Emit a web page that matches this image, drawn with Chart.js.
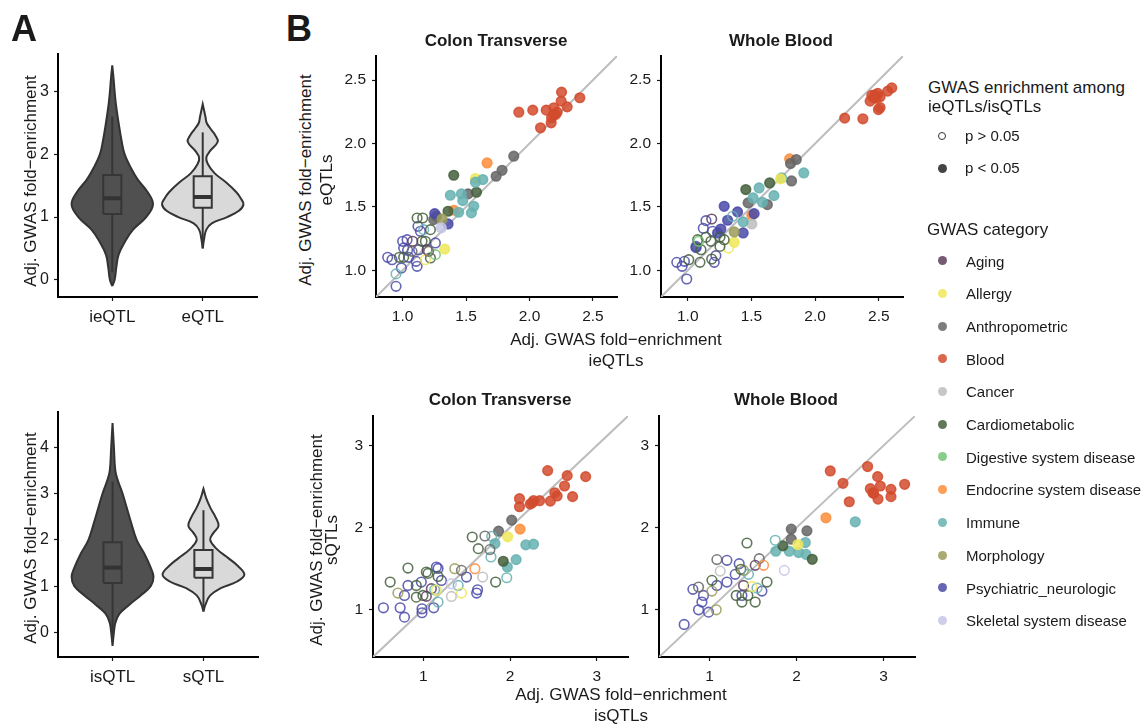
<!DOCTYPE html>
<html><head><meta charset="utf-8">
<script src="https://cdn.jsdelivr.net/npm/chart.js@4.4.1/dist/chart.umd.min.js"></script>
<style>
html,body{margin:0;padding:0;background:#fff}
body{width:1145px;height:725px;overflow:hidden;position:relative;font-family:"Liberation Sans",Arial,Helvetica,sans-serif;color:#1a1a1a}
canvas{position:absolute}
.t{position:absolute;white-space:nowrap;line-height:1}
.dot{position:absolute;border-radius:50%;box-sizing:border-box}
</style></head><body>
<script>
// ---------------- DATA ----------------
const categories = ['Aging','Allergy','Anthropometric','Blood','Cancer','Cardiometabolic','Digestive system disease','Endocrine system disease','Immune','Morphology','Psychiatric_neurologic','Skeletal system disease'];
const categoryCodes = ['Ag','Al','An','Bl','Ca','Cm','Di','En','Im','Mo','Ps','Sk'];
const categoryColors = ['#5e3c5c','#efe85a','#666666','#d24b2e','#bdbdbd','#44603c','#74c476','#fd8d3c','#67b2b2','#9b9b5a','#4a4aa8','#c6c6e6'];
const pLabels = ['p > 0.05','p < 0.05'];
const tissues = ['Colon Transverse','Whole Blood'];

// violin groups (panel A)
const violinTopGroups = ['ieQTL','eQTL'];
const violinBottomGroups = ['isQTL','sQTL'];
const ieqtlY = [-0.1,0.0,0.2,0.4,0.6,0.8,1.0,1.2,1.4,1.6,1.8,2.0,2.2,2.5,2.8,3.0,3.2,3.42];
const ieqtlW = [0,0.026,0.045,0.07,0.137,0.23,0.375,0.45,0.39,0.28,0.2,0.137,0.105,0.07,0.04,0.026,0.015,0];
const eqtlY = [0.5,0.65,0.8,0.9,1.0,1.1,1.2,1.3,1.4,1.55,1.7,1.85,1.95,2.05,2.2,2.3,2.4,2.5,2.6,2.8];
const eqtlW = [0,0.015,0.04,0.1,0.27,0.4,0.45,0.42,0.37,0.26,0.13,0.055,0.04,0.08,0.166,0.14,0.09,0.044,0.03,0];
const isqtlY = [-0.29,0.0,0.2,0.4,0.6,0.8,1.0,1.2,1.4,1.7,2.0,2.4,2.7,3.0,3.3,3.5,4.0,4.52];
const isqtlW = [0,0.015,0.03,0.075,0.185,0.31,0.42,0.45,0.42,0.35,0.265,0.2,0.155,0.11,0.055,0.03,0.015,0];
const sqtlY = [0.45,0.6,0.8,0.95,1.1,1.25,1.45,1.6,1.8,2.0,2.15,2.3,2.5,2.7,2.9,3.1];
const sqtlW = [0,0.022,0.074,0.185,0.37,0.45,0.37,0.277,0.148,0.074,0.11,0.166,0.13,0.074,0.03,0];
// box stats: [lower whisker, q1, median, q3, upper whisker]
const ieqtlBox = [0.12,1.05,1.3,1.67,2.6];
const eqtlBox = [0.5,1.15,1.32,1.65,2.35];
const isqtlBox = [-0.2,1.07,1.4,1.95,3.26];
const sqtlBox = [0.48,1.18,1.37,1.78,2.64];
const violinTopTicks = [0,1,2,3];
const violinBottomTicks = [0,1,2,3,4];

// scatter panels (panel B): [ieQTL/isQTL enrichment, eQTL/sQTL enrichment, category, significant]
const colonEqtl = [
 [1.916,2.247,'Bl',1],[2.026,2.263,'Bl',1],[2.087,2.124,'Bl',1],[2.132,2.263,'Bl',1],[2.171,2.163,'Bl',1],[2.192,2.282,'Bl',1],[2.205,2.229,'Bl',1],[2.218,2.247,'Bl',1],[2.25,2.334,'Bl',1],[2.253,2.405,'Bl',1],[2.297,2.289,'Bl',1],[2.397,2.361,'Bl',1],[2.174,2.203,'Bl',1],[2.19,2.23,'Bl',1],
 [1.666,1.847,'En',1],[1.403,1.474,'En',1],
 [1.876,1.9,'An',1],[1.784,1.789,'An',1],[1.737,1.742,'An',1],[1.516,1.603,'An',1],[1.245,1.4,'An',1],[1.266,1.426,'An',1],
 [1.403,1.75,'Cm',1],[1.582,1.616,'Cm',1],[1.358,1.466,'Cm',1],
 [1.574,1.724,'Al',1],[1.332,1.168,'Al',1],
 [1.574,1.695,'Im',1],[1.632,1.716,'Im',1],[1.376,1.592,'Im',1],[1.463,1.603,'Im',1],[1.474,1.55,'Im',1],[1.561,1.505,'Im',1],[1.542,1.453,'Im',1],[1.442,1.458,'Im',1],
 [1.253,1.447,'Ps',1],[1.358,1.366,'Ps',1],[1.311,1.405,'Mo',1],[1.305,1.335,'Sk',1],
 [0.882,1.103,'Ps',0],[0.916,1.084,'Ps',0],[0.948,0.874,'Ps',0],[0.99,1.019,'Ps',0],[1.0,1.229,'Ps',0],[1.035,1.242,'Ps',0],[1.008,1.177,'Ps',0],[1.039,1.158,'Ps',0],[1.047,1.103,'Ps',0],[1.114,1.032,'Ps',0],[1.106,1.071,'Ps',0],[1.126,1.163,'Ps',0],[1.121,1.347,'Ps',0],[1.258,1.216,'Ps',0],[1.14,1.308,'Ps',0],
 [0.948,0.972,'Im',0],[1.166,1.321,'Im',0],
 [0.974,1.103,'Cm',0],[1.008,1.103,'Cm',0],[1.114,1.413,'Cm',0],[1.158,1.413,'Cm',0],[1.153,1.229,'Cm',0],[1.179,1.229,'Cm',0],[1.219,1.321,'Cm',0],[1.219,1.098,'Cm',0],
 [1.079,1.229,'Ag',0],[1.193,1.163,'Ag',0],[1.179,1.084,'Al',0],[1.258,1.124,'Di',0],[1.074,1.15,'An',0],[1.205,1.15,'An',0]
];
const bloodEqtl = [
 [2.232,2.2,'Bl',1],[2.375,2.195,'Bl',1],[2.445,2.379,'Bl',1],[2.471,2.384,'Bl',1],[2.492,2.395,'Bl',1],[2.51,2.368,'Bl',1],[2.432,2.334,'Bl',1],[2.497,2.268,'Bl',1],[2.51,2.284,'Bl',1],[2.57,2.413,'Bl',1],[2.602,2.439,'Bl',1],[2.479,2.358,'Bl',1],[2.46,2.36,'Bl',1],
 [1.8,1.879,'En',1],[1.503,1.434,'En',1],
 [1.807,1.842,'An',1],[1.852,1.874,'An',1],[1.815,1.705,'An',1],[1.625,1.518,'An',1],[1.474,1.532,'An',1],[1.503,1.366,'Ca',1],
 [1.456,1.637,'Cm',1],[1.643,1.689,'Cm',1],
 [1.56,1.65,'Im',1],[1.737,1.729,'Im',1],[1.911,1.768,'Im',1],[1.677,1.589,'Im',1],[1.586,1.537,'Im',1],[1.513,1.571,'Im',1],[1.435,1.382,'Im',1],
 [1.729,1.721,'Al',1],[1.365,1.221,'Al',1],
 [1.286,1.505,'Ps',1],[1.391,1.461,'Ps',1],[1.313,1.395,'Ps',1],[1.521,1.447,'Ps',1],[1.435,1.295,'Ps',1],[1.26,1.326,'Ps',1],[1.234,1.295,'Ps',1],[1.065,1.179,'Ps',1],
 [1.365,1.303,'Mo',1],
 [0.914,1.063,'Ps',0],[0.956,1.032,'Ps',0],[0.992,0.932,'Ps',0],[0.974,1.071,'Ps',0],[1.065,1.189,'Ps',0],[1.122,1.332,'Ps',0],[1.143,1.392,'Ps',0],[1.195,1.308,'Ps',0],[1.221,1.116,'Ps',0],[1.208,1.063,'Ps',0],
 [1.32,1.176,'Al',0],[1.352,1.426,'Im',0],[1.188,1.405,'Ag',0],
 [1.008,1.084,'Cm',0],[1.096,1.063,'Cm',0],[1.078,1.242,'Cm',0],[1.143,1.261,'Cm',0],[1.182,1.229,'Cm',0],[1.253,1.189,'Cm',0],[1.286,1.242,'Cm',0],[1.188,1.089,'Cm',0],[1.253,1.263,'Cm',0],[1.104,1.163,'Cm',0],
 [1.086,1.229,'Di',0]
];
const colonSqtl = [
 [2.434,2.694,'Bl',1],[2.659,2.633,'Bl',1],[2.872,2.62,'Bl',1],[2.628,2.506,'Bl',1],[2.516,2.424,'Bl',1],[2.109,2.351,'Bl',1],[2.109,2.253,'Bl',1],[2.256,2.302,'Bl',1],[2.341,2.327,'Bl',1],[2.465,2.322,'Bl',1],[2.543,2.384,'Bl',1],[2.721,2.376,'Bl',1],[2.271,2.327,'Bl',1],[2.233,2.286,'Bl',1],
 [2.019,2.09,'An',1],[1.868,1.955,'An',1],[2.116,1.98,'En',1],[1.973,1.886,'Al',1],
 [1.826,1.804,'Im',1],[2.182,1.788,'Im',1],[2.271,1.796,'Im',1],[1.969,1.518,'Im',1],[2.07,1.608,'Im',1],[1.922,1.588,'Cm',1],
 [0.54,1.02,'Ps',0],[0.733,1.02,'Ps',0],[0.783,0.906,'Ps',0],[0.783,1.171,'Ps',0],[0.823,1.293,'Ps',0],[0.977,1.334,'Ps',0],[0.985,1.008,'Ps',0],[0.985,0.96,'Ps',0],[1.151,1.517,'Ps',0],[1.17,1.5,'Ps',0],[1.209,1.354,'Ps',0],[1.12,1.02,'Ps',0],[1.498,1.395,'Ps',0],[1.626,1.24,'Ps',0],[1.615,1.2,'Ps',0],
 [0.618,1.334,'Cm',0],[0.823,1.505,'Cm',0],[0.919,1.293,'Cm',0],[0.919,1.15,'Cm',0],[1.035,1.456,'Cm',0],[1.054,1.44,'Cm',0],[1.17,1.403,'Cm',0],[0.996,1.171,'Cm',0],[1.564,1.884,'Cm',0],[1.634,1.742,'Cm',0],[1.834,1.334,'Cm',0],
 [0.707,1.2,'Mo',0],[1.363,1.497,'Mo',0],[1.035,1.16,'Ag',0],[1.093,1.253,'Ag',0],
 [1.131,1.24,'Im',0],[1.17,1.09,'Im',0],[1.402,1.293,'Im',0],[1.788,1.892,'Im',0],[1.78,1.64,'Im',0],[1.962,1.387,'Im',0],
 [1.151,1.236,'Al',0],[1.44,1.2,'Al',0],[1.324,1.159,'Ca',0],[1.684,1.395,'Ca',0],[1.324,1.314,'Sk',0],
 [1.44,1.477,'An',0],[1.71,1.896,'An',0],[1.768,1.73,'An',0],[1.595,1.497,'En',0]
];
const bloodSqtl = [
 [2.387,2.69,'Bl',1],[2.816,2.743,'Bl',1],[2.533,2.539,'Bl',1],[2.605,2.314,'Bl',1],[2.931,2.62,'Bl',1],[2.962,2.506,'Bl',1],[2.847,2.473,'Bl',1],[2.885,2.416,'Bl',1],[3.084,2.465,'Bl',1],[3.084,2.376,'Bl',1],[3.241,2.527,'Bl',1],[2.935,2.347,'Bl',1],[2.877,2.424,'Bl',1],
 [2.337,2.118,'En',1],
 [2.674,2.069,'Im',1],[2.1,1.816,'Im',1],[1.762,1.71,'Im',1],[1.916,1.71,'Im',1],[2.023,1.694,'Im',1],[2.107,1.673,'Im',1],
 [1.939,1.98,'An',1],[2.119,1.959,'An',1],[1.939,1.857,'An',1],[1.843,1.776,'Cm',1],[2.18,1.612,'Cm',1],[2.015,1.792,'Al',1],
 [0.709,0.817,'Ps',0],[0.874,0.996,'Ps',0],[0.989,0.967,'Ps',0],[0.913,1.09,'Ps',0],[0.931,1.171,'Ps',0],[0.809,1.245,'Ps',0],[1.085,1.293,'Ps',0],[1.2,1.599,'Ps',0],[1.2,1.334,'Ps',0],[1.295,1.428,'Ps',0],[1.341,1.558,'Ps',0],[1.372,1.171,'Ps',0],[1.602,1.224,'Ps',0],
 [1.077,0.996,'Mo',0],[1.028,1.224,'Mo',0],[1.391,1.477,'Mo',0],
 [0.874,1.273,'An',0],[1.085,1.608,'An',0],[1.571,1.62,'An',0],
 [1.028,1.355,'Cm',0],[1.307,1.171,'Cm',0],[1.372,1.09,'Cm',0],[1.441,1.171,'Cm',0],[1.525,1.09,'Cm',0],[1.43,1.811,'Cm',0],[1.66,1.334,'Cm',0],[1.36,1.49,'Cm',0],
 [1.123,1.468,'Ca',0],[1.391,1.293,'Ag',0],[1.525,1.538,'Ag',0],
 [1.448,1.428,'Im',0],[1.545,1.261,'Im',0],[1.755,1.844,'Im',0],
 [1.487,1.281,'Al',0],[1.621,1.538,'En',0],[1.859,1.477,'Sk',0]
];
const eqtlRange = [0.79, 2.69];
const sqtlRange = [0.42, 3.36];
const eqtlTicks = [1.0,1.5,2.0,2.5];
const sqtlTicks = [1,2,3];

// ---------------- RENDERING ----------------
const FONT = '"Liberation Sans", Arial, Helvetica, sans-serif';
Chart.defaults.font.family = FONT;
Chart.defaults.color = '#1a1a1a';
Chart.defaults.animation = false;

const PAD_T = 20, PAD_R = 20, AXIS_W = 50, AXIS_H = 40;

function rgba(hex, a) {
  const n = parseInt(hex.slice(1), 16);
  return `rgba(${(n>>16)&255},${(n>>8)&255},${n&255},${a})`;
}
function catColor(code) { return categoryColors[categoryCodes.indexOf(code)]; }

function makeCanvas(area) {
  const c = document.createElement('canvas');
  const w = area.r - area.l + AXIS_W + PAD_R, h = area.b - area.t + PAD_T + AXIS_H;
  c.width = w; c.height = h;
  c.style.width = w + 'px'; c.style.height = h + 'px';
  c.style.left = (area.l - AXIS_W) + 'px'; c.style.top = (area.t - PAD_T) + 'px';
  document.body.appendChild(c);
  return c;
}

function axis(min, max, ticks, fmt, size, isX, pad) {
  return {
    type: 'linear', min, max,
    afterBuildTicks: s => { s.ticks = ticks.map(v => ({ value: v })); },
    afterFit: s => { if (isX) s.height = AXIS_H; else s.width = AXIS_W; },
    ticks: { callback: fmt, font: { size }, color: '#1a1a1a', padding: pad, autoSkip: false, maxRotation: 0, minRotation: 0 },
    grid: { display: true, drawOnChartArea: false, drawTicks: true, tickLength: 4, tickWidth: 1.2, tickColor: '#1a1a1a' },
    border: { display: true, color: '#000', width: 2 }
  };
}

function baseOptions(scales) {
  return {
    responsive: false, devicePixelRatio: 1, animation: false,
    layout: { padding: { top: PAD_T, right: PAD_R, left: 0, bottom: 0 } },
    plugins: { legend: { display: false }, tooltip: { enabled: false }, title: { display: false } },
    scales
  };
}

function violinSets(pos, ys, ws, box, fill) {
  const poly = ys.map((y, i) => ({ x: pos + ws[i], y })).concat(ys.map((y, i) => ({ x: pos - ws[i], y })).reverse());
  const bw = 0.1;
  const [lo, q1, med, q3, hi] = box;
  const rect = [{x:pos-bw,y:q1},{x:pos+bw,y:q1},{x:pos+bw,y:q3},{x:pos-bw,y:q3},{x:pos-bw,y:q1}];
  return [
    { data: poly, showLine: true, fill: 'shape', backgroundColor: fill, borderColor: '#333333', borderWidth: 2, tension: 0.4, pointRadius: 0, order: 3 },
    { data: [{x:pos,y:lo},{x:pos,y:hi}], showLine: true, borderColor: '#353535', borderWidth: 2, pointRadius: 0, order: 2 },
    { data: rect, showLine: true, fill: 'shape', backgroundColor: fill, borderColor: '#363636', borderWidth: 2, tension: 0, pointRadius: 0, order: 1 },
    { data: [{x:pos-bw,y:med},{x:pos+bw,y:med}], showLine: true, borderColor: '#333333', borderWidth: 4, pointRadius: 0, order: 0 }
  ];
}

function violinChart(area, groups, dens, boxes, yMin, yMax, yTicks) {
  const fills = ['#505050', '#d9d9d9'];
  let datasets = [];
  groups.forEach((g, i) => { datasets = datasets.concat(violinSets(i + 1, dens[i][0], dens[i][1], boxes[i], fills[i])); });
  new Chart(makeCanvas(area), {
    type: 'scatter',
    data: { datasets },
    options: baseOptions({
      x: axis(0.4, 2.6, [1, 2], v => groups[v - 1] || '', 17, true, 6),
      y: axis(yMin, yMax, yTicks, v => String(v), 16, false, 5)
    })
  });
}

function scatterChart(area, rows, range, ticks, fmt) {
  const pts = rows.map(r => ({ x: r[0], y: r[1], cat: r[2], sig: r[3] }));
  new Chart(makeCanvas(area), {
    type: 'scatter',
    data: { datasets: [
      { data: pts, pointRadius: 4.8, borderWidth: 1.6, order: 0,
        backgroundColor: ctx => (ctx.raw && ctx.raw.sig) ? rgba(catColor(ctx.raw.cat), 0.85) : 'rgba(0,0,0,0)',
        borderColor: ctx => ctx.raw ? rgba(catColor(ctx.raw.cat), 0.85) : 'rgba(0,0,0,0)' },
      { data: [{ x: range[0], y: range[0] }, { x: range[1], y: range[1] }], showLine: true, borderColor: '#bdbdbd', borderWidth: 2, pointRadius: 0, order: 1 }
    ] },
    options: baseOptions({
      x: axis(range[0], range[1], ticks, fmt, 15.5, true, 6),
      y: axis(range[0], range[1], ticks, fmt, 15.5, false, 6)
    })
  });
}

// Panel A
violinChart({ l: 58, r: 257, t: 54, b: 297 }, violinTopGroups, [[ieqtlY, ieqtlW], [eqtlY, eqtlW]], [ieqtlBox, eqtlBox], -0.275, 3.6, violinTopTicks);
violinChart({ l: 58, r: 258, t: 412, b: 657 }, violinBottomGroups, [[isqtlY, isqtlW], [sqtlY, sqtlW]], [isqtlBox, sqtlBox], -0.53, 4.76, violinBottomTicks);

// Panel B
const f1 = v => v.toFixed(1), f0 = v => String(v);
scatterChart({ l: 376, r: 617, t: 56, b: 297 }, colonEqtl, eqtlRange, eqtlTicks, f1);
scatterChart({ l: 661, r: 903, t: 56, b: 297 }, bloodEqtl, eqtlRange, eqtlTicks, f1);
scatterChart({ l: 373, r: 628, t: 416, b: 657 }, colonSqtl, sqtlRange, sqtlTicks, f0);
scatterChart({ l: 659, r: 915, t: 416, b: 657 }, bloodSqtl, sqtlRange, sqtlTicks, f0);

// ---------------- TEXT ----------------
function text(str, x, y, size, opts = {}) {
  const d = document.createElement('div');
  d.className = 't';
  d.textContent = str;
  d.style.fontSize = size + 'px';
  if (opts.bold) d.style.fontWeight = 'bold';
  if (opts.rotate) {
    d.style.left = x + 'px'; d.style.top = y + 'px';
    d.style.transform = 'translate(-50%,-50%) rotate(-90deg)';
  } else {
    d.style.top = (y - 0.8465 * size) + 'px';
    d.style.left = x + 'px';
    if (opts.center) d.style.transform = 'translateX(-50%)';
  }
  document.body.appendChild(d);
}
const yTitle = 'Adj. GWAS fold\u2212enrichment';
text('A', 11, 41, 36, { bold: true });
text('B', 286, 41, 36, { bold: true });
text(yTitle, 30, 181, 17, { rotate: true });
text(yTitle, 30, 538, 17, { rotate: true });
text(tissues[0], 496, 46, 17, { bold: true, center: true });
text(tissues[1], 781, 46, 17, { bold: true, center: true });
text(tissues[0], 500, 405, 17, { bold: true, center: true });
text(tissues[1], 786, 405, 17, { bold: true, center: true });
text(yTitle, 305, 180, 17, { rotate: true });
text('eQTLs', 326, 180, 17, { rotate: true });
text(yTitle, 316, 540, 17, { rotate: true });
text('sQTLs', 331, 540, 17, { rotate: true });
text(yTitle, 616, 345, 17, { center: true });
text('ieQTLs', 616, 366, 17, { center: true });
text(yTitle, 621, 700, 17, { center: true });
text('isQTLs', 621, 721, 17, { center: true });

// legend
function dot(cx, cy, r, fill, stroke, bw) {
  const d = document.createElement('div');
  d.className = 'dot';
  d.style.left = (cx - r) + 'px'; d.style.top = (cy - r) + 'px';
  d.style.width = d.style.height = (2 * r) + 'px';
  d.style.background = fill;
  if (stroke) d.style.border = bw + 'px solid ' + stroke;
  document.body.appendChild(d);
}
text('GWAS enrichment among', 928, 93, 17);
text('ieQTLs/isQTLs', 928, 112, 17);
dot(942, 136, 4, 'transparent', '#333', 1.5);
text(pLabels[0], 965, 141, 15);
dot(942, 168, 4.5, '#444', null, 0);
text(pLabels[1], 965, 173, 15);
text('GWAS category', 927, 235, 17);
categories.forEach((c, i) => {
  const cy = 260.7 + i * 32.7;
  dot(942, cy, 4.5, rgba(categoryColors[i], 0.85), null, 0);
  text(c, 966, cy + 5.5, 15);
});
</script>
</body></html>
